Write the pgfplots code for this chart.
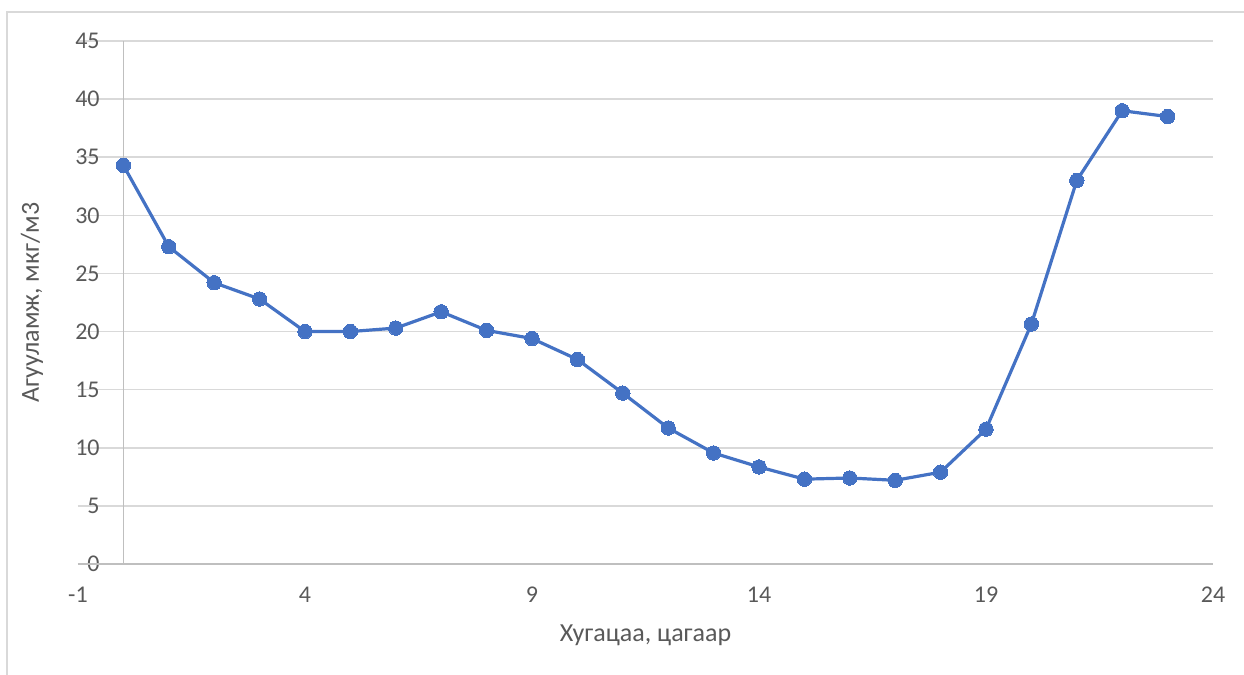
\documentclass[border=0pt]{standalone}
\usepackage{fontspec}
\setmainfont{Carlito}
\usepackage{pgfplots}
\pgfplotsset{compat=1.18}

\definecolor{lineblue}{HTML}{4472C4}
\definecolor{gridgray}{HTML}{D9D9D9}
\definecolor{axisgray}{HTML}{BFBFBF}
\definecolor{textgray}{HTML}{595959}

\pgfplotstableread{
x y
0 34.3
1 27.3
2 24.2
3 22.8
4 20.0
5 20.0
6 20.3
7 21.7
8 20.1
9 19.4
10 17.6
11 14.7
12 11.7
13 9.55
14 8.35
15 7.3
16 7.4
17 7.2
18 7.9
19 11.6
20 20.65
21 33.0
22 39.0
23 38.5
}\conc

\begin{document}
\begin{tikzpicture}
\useasboundingbox (0,0) rectangle (622pt,337.5pt);
% chart border (cropped at right and bottom)
\draw[gridgray, line width=0.75pt] (3.5pt,0) -- (3.5pt,331.5pt) -- (622pt,331.5pt);
\begin{axis}[
  at={(39pt,55.5pt)}, anchor=south west,
  scale only axis,
  width=567.5pt, height=261.5pt,
  xmin=-1, xmax=24, ymin=0, ymax=45,
  xtick={-1,4,9,14,19,24},
  ytick={0,5,...,45},
  major tick length=0pt,
  axis line style={draw=none},
  ymajorgrids,
  grid style={gridgray, line width=0.75pt},
  clip=false,
  /pgf/number format/assume math mode=true,
  tick label style={font=\fontsize{12}{14}\selectfont, text=textgray},
  xticklabel style={anchor=center, yshift=-15.5pt},
  yticklabel style={anchor=east, inner sep=0pt, xshift=11pt},
  label style={font=\fontsize{13}{15}\selectfont, text=textgray},
  xlabel={Хугацаа, цагаар},
  ylabel={Агууламж, мкг/м3},
  xlabel style={at={(axis description cs:0.5,0)}, anchor=center, yshift=-35.5pt},
  ylabel style={at={(axis description cs:0,0.5)}, anchor=center, yshift=23pt},
]
\draw[axisgray, line width=0.75pt] (axis cs:-1,0) -- (axis cs:24,0);
\draw[axisgray, line width=0.75pt] (axis cs:0,0) -- (axis cs:0,45);
\addplot[lineblue, line width=1.6pt, mark=*, mark size=3.6pt,
  mark options={fill=lineblue, draw=lineblue, line width=0pt}]
  table[x=x, y=y] {\conc};
\end{axis}
\end{tikzpicture}
\end{document}
